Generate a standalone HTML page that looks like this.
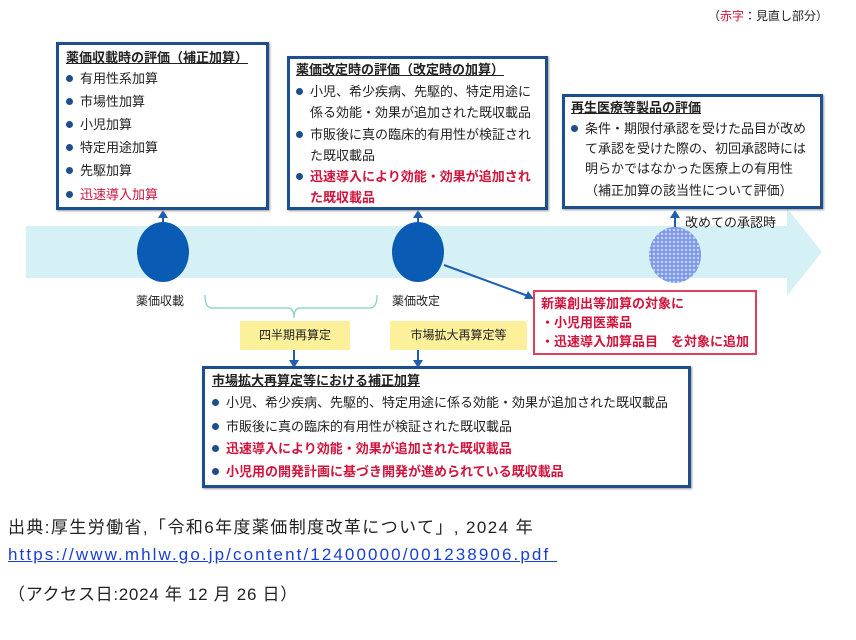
<!DOCTYPE html>
<html><head><meta charset="utf-8"><style>
body{margin:0;width:856px;height:640px;background:#fff;position:relative;font-family:"Liberation Sans","Noto Sans CJK JP",sans-serif;color:#222;overflow:hidden}
.a{position:absolute;white-space:nowrap}
.box{position:absolute;border:3px solid #1f4e8c;background:#fff;box-sizing:border-box;box-shadow:1px 1px 2px #999}
.t{font-weight:bold;font-size:13px;line-height:16px;text-decoration:underline;position:absolute;white-space:nowrap}
.i{position:absolute;font-size:13px;line-height:16px;white-space:nowrap}
.i b.d{display:inline-block;width:7px;height:7px;border-radius:50%;background:#1f4e8c;margin-right:7px;vertical-align:1px}
.r{color:#d0143c;font-weight:bold}
</style></head><body>
<div class="a" style="left:708px;top:7px;font-size:12px">（<span style="color:#d0143c">赤字</span>：見直し部分）</div>

<svg class="a" style="left:0;top:0" width="856" height="640">
<defs><pattern id="p" width="4" height="4" patternUnits="userSpaceOnUse"><rect width="4" height="4" fill="#7e9ae8"/><circle cx="2" cy="2" r="1.2" fill="#c8d4f8"/></pattern></defs>
<polygon points="26,226 787,226 787,208 822,252 787,296 787,278 26,278" fill="#d6f1f5"/>
<ellipse cx="163" cy="252" rx="26" ry="30" fill="#0a5bb4"/>
<ellipse cx="418" cy="252" rx="26" ry="30" fill="#0a5bb4"/>
<ellipse cx="675" cy="255" rx="26" ry="28" fill="url(#p)"/>
<g stroke="#1f5fb0" stroke-width="2" fill="#1f5fb0">
<line x1="163" y1="222" x2="163" y2="216"/><polygon points="158,218 168,218 163,210" stroke="none"/>
<line x1="418" y1="222" x2="418" y2="216"/><polygon points="413,218 423,218 418,210" stroke="none"/>
<line x1="675" y1="227" x2="675" y2="216"/><polygon points="670,218 680,218 675,210" stroke="none"/>
<line x1="444" y1="265" x2="528" y2="296"/><polygon points="534,299 524,299 528,291" stroke="none"/>
<line x1="294" y1="350" x2="294" y2="361"/><polygon points="289,360 299,360 294,368" stroke="none"/>
<line x1="418" y1="350" x2="418" y2="361"/><polygon points="413,360 423,360 418,368" stroke="none"/>
</g>
<path d="M205,295 Q205,308 212,308 L288,308 Q294,308 294,318 Q294,308 300,308 L370,308 Q377,308 377,295" fill="none" stroke="#7fcfc8" stroke-width="1.2"/>
</svg>

<div class="box" style="left:56px;top:42px;width:213px;height:168px">
<div class="t" style="left:7px;top:5px">薬価収載時の評価（補正加算）</div>
<div class="i" style="left:7px;top:26px"><b class="d"></b>有用性系加算</div>
<div class="i" style="left:7px;top:49px"><b class="d"></b>市場性加算</div>
<div class="i" style="left:7px;top:72px"><b class="d"></b>小児加算</div>
<div class="i" style="left:7px;top:95px"><b class="d"></b>特定用途加算</div>
<div class="i" style="left:7px;top:118px"><b class="d"></b>先駆加算</div>
<div class="i" style="left:7px;top:142px"><b class="d"></b><span class="r" style="font-weight:normal">迅速導入加算</span></div>
</div>

<div class="box" style="left:287px;top:56px;width:261px;height:154px">
<div class="t" style="left:6px;top:3px">薬価改定時の評価（改定時の加算）</div>
<div class="i" style="left:6px;top:22px;line-height:21px"><b class="d"></b>小児、希少疾病、先駆的、特定用途に<br><span style="margin-left:14px">係る効能・効果が追加された既収載品</span></div>
<div class="i" style="left:6px;top:65px;line-height:21px"><b class="d"></b>市販後に真の臨床的有用性が検証され<br><span style="margin-left:14px">た既収載品</span></div>
<div class="i" style="left:6px;top:107px;line-height:21px"><b class="d"></b><span class="r">迅速導入により効能・効果が追加され</span><br><span class="r" style="margin-left:14px">た既収載品</span></div>
</div>

<div class="box" style="left:562px;top:94px;width:261px;height:115px">
<div class="t" style="left:6px;top:3px">再生医療等製品の評価</div>
<div class="i" style="left:6px;top:22px;line-height:20px"><b class="d"></b>条件・期限付承認を受けた品目が改め<br><span style="margin-left:14px">て承認を受けた際の、初回承認時には</span><br><span style="margin-left:14px">明らかではなかった医療上の有用性</span></div>
<div class="i" style="left:20px;top:86px">（補正加算の該当性について評価）</div>
</div>

<div class="a" style="left:685px;top:212px;font-size:13px">改めての承認時</div>
<div class="a" style="left:136px;top:292px;font-size:12px">薬価収載</div>
<div class="a" style="left:392px;top:292px;font-size:12px">薬価改定</div>

<div class="a" style="left:240px;top:321px;width:110px;height:29px;background:#fdf09a;font-size:12px;text-align:center;line-height:29px">四半期再算定</div>
<div class="a" style="left:390px;top:321px;width:137px;height:29px;background:#fdf09a;font-size:12px;text-align:center;line-height:29px">市場拡大再算定等</div>

<div class="box" style="left:533px;top:290px;width:224px;height:65px;border:2px solid #e04060;box-shadow:none">
<div class="i r" style="left:6px;top:4px">新薬創出等加算の対象に</div>
<div class="i r" style="left:6px;top:23px">・小児用医薬品</div>
<div class="i r" style="left:6px;top:42px">・迅速導入加算品目　を対象に追加</div>
</div>

<div class="box" style="left:202px;top:366px;width:489px;height:122px">
<div class="t" style="left:7px;top:4px">市場拡大再算定等における補正加算</div>
<div class="i" style="left:7px;top:26px"><b class="d"></b>小児、希少疾病、先駆的、特定用途に係る効能・効果が追加された既収載品</div>
<div class="i" style="left:7px;top:50px"><b class="d"></b>市販後に真の臨床的有用性が検証された既収載品</div>
<div class="i" style="left:7px;top:72px"><b class="d"></b><span class="r">迅速導入により効能・効果が追加された既収載品</span></div>
<div class="i" style="left:7px;top:95px"><b class="d"></b><span class="r">小児用の開発計画に基づき開発が進められている既収載品</span></div>
</div>

<div class="a" style="left:8px;top:513px;font-size:17px;letter-spacing:1.4px">出典:厚生労働省,「令和6年度薬価制度改革について」, 2024 年</div>
<div class="a" style="left:8px;top:545px;font-size:17px;letter-spacing:2.1px;color:#1a3fd0;text-decoration:underline">https://www.mhlw.go.jp/content/12400000/001238906.pdf&nbsp;</div>
<div class="a" style="left:8px;top:580px;font-size:17px;letter-spacing:0.7px">（アクセス日:2024 年 12 月 26 日）</div>
</body></html>
